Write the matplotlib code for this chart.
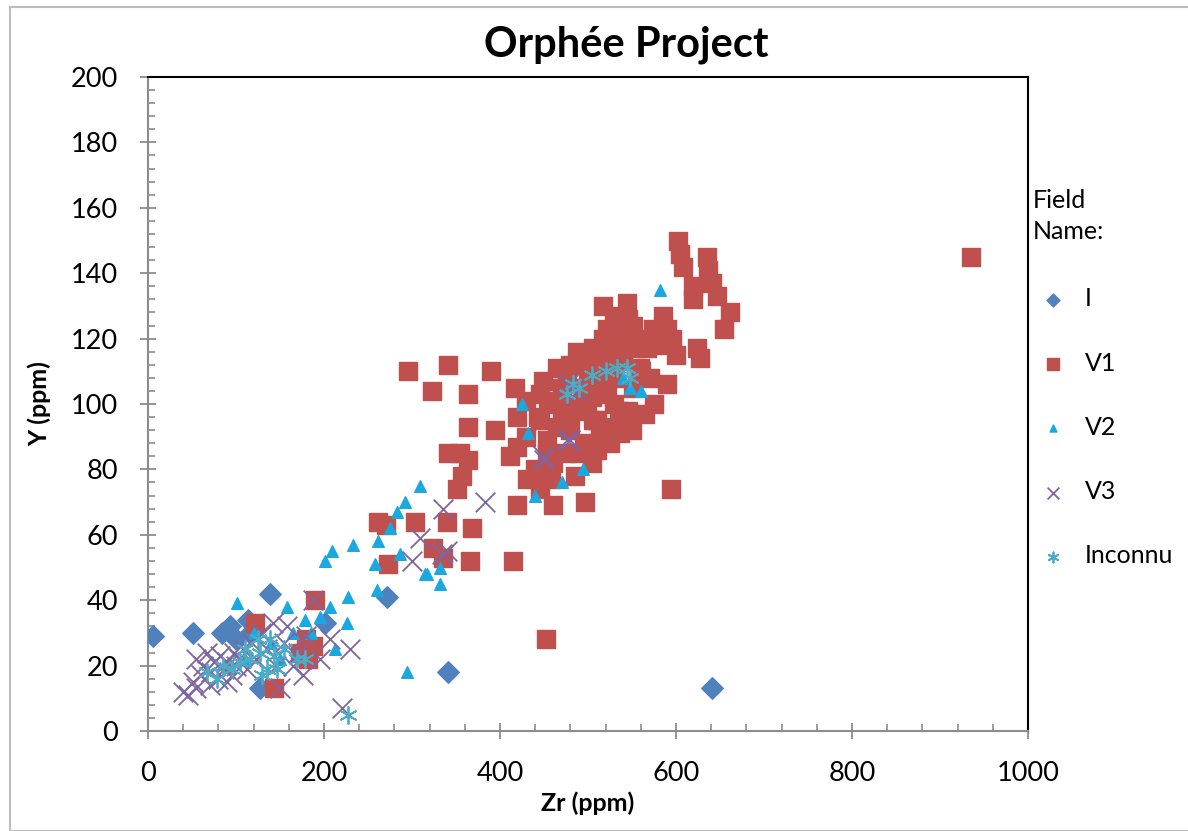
import matplotlib.pyplot as plt
from matplotlib.patches import Rectangle
from matplotlib.ticker import MultipleLocator

plt.rcParams['font.family'] = ['Lato', 'DejaVu Sans']

# Field name I
i_zr = [6, 51, 84, 93, 114, 116, 139, 201, 272, 127, 341, 641, 100, 122]
i_y = [29, 30, 30, 32, 34, 30, 42, 33, 41, 13, 18, 13, 28, 31]

# Field name V1
v1_zr = [935, 452, 594, 415,
         143, 180, 188, 173, 190, 182, 122,
         261, 270, 303, 340, 368, 273, 366, 324, 335, 295, 341, 390, 323,
         364, 364, 341, 364, 357, 351, 355,
         394, 417, 419, 443, 430, 419, 411, 453, 453, 445, 465, 419, 460,
         431, 445, 458, 440,
         465, 487, 476, 449, 445, 430, 465, 499, 522, 551, 590, 506, 528,
         514, 536, 510, 499, 528, 559, 506, 536, 567, 522, 551, 585, 590,
         517, 544, 517, 540, 574, 500, 485, 470, 480, 490, 530, 515, 545,
         555, 495, 497,
         455, 470, 480, 495, 505, 512, 520, 530, 540, 548, 560, 570, 580,
         595, 600, 575, 565, 550, 525, 505, 490, 475, 460, 450, 485, 510,
         535, 560, 545, 530,
         602, 605, 608, 635, 636, 641, 619, 619, 647, 661, 654, 624, 627]
v1_y = [145, 28, 74, 52,
        13, 28, 26, 24, 40, 22, 33,
        64, 63, 64, 64, 62, 51, 52, 56, 53, 110, 112, 110, 104,
        103, 93, 85, 83, 78, 74, 85,
        92, 105, 96, 96, 90, 87, 84, 89, 85, 95, 93, 69, 69,
        77, 74, 77, 80,
        111, 116, 108, 107, 103, 101, 101, 99, 103, 105, 106, 95, 93,
        90, 91, 86, 113, 113, 111, 117, 117, 117, 123, 124, 127, 123,
        130, 131, 120, 123, 123, 108, 100, 96, 92, 98, 100, 105, 98,
        117, 88, 70,
        100, 105, 112, 105, 102, 110, 115, 108, 113, 118, 120, 108, 118,
        120, 115, 100, 97, 92, 88, 82, 85, 85, 82, 78, 78, 95,
        98, 110, 126, 127,
        150, 146, 142, 145, 141, 137, 136, 132, 133, 128, 123, 117, 114]

# Field name V2
v2_zr = [582, 425, 432, 494, 470, 440, 315, 332, 332, 294, 309, 292, 283,
         275, 261, 233, 209, 201, 258, 286, 317, 227, 260, 101, 158, 207,
         178, 226, 212, 548, 540, 120, 140, 110, 150, 165, 185, 195, 560]
v2_y = [135, 100, 91, 80, 76, 72, 48, 45, 50, 18, 75, 70, 67,
        62, 58, 57, 55, 52, 51, 54, 48, 41, 43, 39, 38, 38,
        34, 33, 25, 105, 108, 30, 27, 22, 22, 30, 30, 35, 104]

# Field name V3
v3_zr = [40, 45, 51, 55, 55, 60, 63, 67, 70, 72, 75, 80, 82, 86, 90, 95,
         98, 103, 108, 112, 118, 123, 128, 135, 142, 145, 150, 155, 158,
         165, 170, 176, 180, 188, 195, 207, 220, 230, 90, 100,
         335, 383, 309, 334, 300, 450, 480, 477, 476, 449, 488, 340]
v3_y = [12, 11, 15, 13, 22, 17, 20, 24, 14, 18, 21, 16, 23, 19, 21, 17,
        24, 22, 25, 19, 27, 22, 30, 25, 33, 20, 13, 27, 32,
        20, 24, 17, 29, 40, 22, 28, 7, 25, 15, 20,
        68, 70, 59, 54, 52, 83, 89, 106, 89, 84, 104, 55]

# Field name Inconnu
inc_zr = [227, 116, 127, 139, 143, 135, 147, 67, 78, 105, 95, 125, 169,
          178, 110, 130, 155, 85, 483, 504, 533, 544, 548, 476, 490, 520]
inc_y = [5, 22, 24, 28, 23, 19, 19, 18, 16, 21, 19, 28, 22,
         22, 25, 17, 25, 20, 106, 109, 111, 111, 108, 103, 105, 110]

fig = plt.figure(figsize=(11.88, 8.31), dpi=100)
ax = fig.add_axes([148 / 1188, 1 - 731 / 831, 880 / 1188, 654 / 831])

ax.scatter(i_zr, i_y, marker='D', s=120, color='#4F81BD', label='I', zorder=3)
ax.scatter(v1_zr, v1_y, marker='s', s=185, color='#C0504D', label='V1', zorder=3)
ax.scatter(v2_zr, v2_y, marker='^', s=70, color='#1AA8E0', label='V2', zorder=3)
ax.scatter(v3_zr, v3_y, marker='x', s=200, color='#8064A2', linewidths=1.3,
           label='V3', zorder=3)
ax.scatter(inc_zr, inc_y, marker=(6, 2, 0), s=150, color='#4BACC6',
           linewidths=1.3, label='Inconnu', zorder=3)

ax.set_xlim(0, 1000)
ax.set_ylim(0, 200)
ax.xaxis.set_major_locator(MultipleLocator(200))
ax.xaxis.set_minor_locator(MultipleLocator(40))
ax.yaxis.set_major_locator(MultipleLocator(20))
ax.yaxis.set_minor_locator(MultipleLocator(4))

for side in ['left', 'bottom']:
    ax.spines[side].set_color('#8c8c8c')
    ax.spines[side].set_linewidth(1.5)
for side in ['top', 'right']:
    ax.spines[side].set_color('black')
    ax.spines[side].set_linewidth(1.5)

ax.tick_params(which='major', direction='inout', length=11, width=1.3,
               color='#8c8c8c', labelsize=19.5, pad=16)
ax.tick_params(which='minor', direction='in', length=5, width=1.2,
               color='#8c8c8c')

fig.text(626 / 1188, 1 - 45 / 831, 'Orphée Project', fontsize=30,
         fontweight='bold', ha='center', va='center')
ax.set_xlabel('Zr (ppm)', fontsize=18, fontweight='bold', labelpad=4)
ax.set_ylabel('Y (ppm)', fontsize=18, fontweight='bold', labelpad=14)

leg = ax.legend(title='Field\nName:', loc='upper left',
                bbox_to_anchor=(1020 / 1188, 1 - 176 / 831),
                bbox_transform=fig.transFigure, frameon=False, fontsize=18,
                title_fontsize=18, alignment='left', markerscale=0.6,
                labelspacing=1.65, handletextpad=0.5, handlelength=1.6,
                borderpad=0)
leg.get_title().set_linespacing(1.45)
leg._legend_box.sep = 32

fig.patches.append(Rectangle((10 / 1188, 0), 1.0, 1 - 7 / 831, fill=False,
                             edgecolor='#bdbdbd', linewidth=1.5,
                             transform=fig.transFigure, figure=fig))

fig.savefig('out.png', dpi=100)
